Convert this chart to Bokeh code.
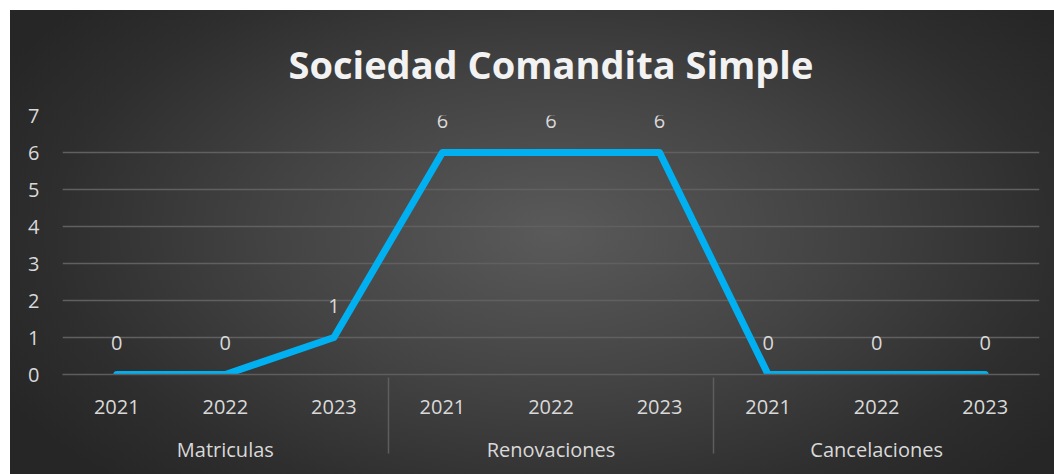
from bokeh.plotting import figure
from bokeh.models import FactorRange, ColumnDataSource, Range1d, LabelSet, FixedTicker
from bokeh.embed import file_html
from bokeh.resources import INLINE
from bokeh.core.properties import value

groups = ["Matriculas", "Renovaciones", "Cancelaciones"]
years = ["2021", "2022", "2023"]
values = [0, 0, 1, 6, 6, 6, 0, 0, 0]
y_ticks = [0, 1, 2, 3, 4, 5, 6, 7]

factors = [(g, y) for g in groups for y in years]
src = ColumnDataSource(dict(x=factors, y=values, lbl=[str(v) for v in values]))

p = figure(
    x_range=FactorRange(*factors, range_padding=0, group_padding=0, factor_padding=0),
    y_range=Range1d(0, 7),
    width=1044, height=464,
    output_backend="svg", toolbar_location=None,
    min_border_left=52, min_border_right=15, min_border_bottom=100, min_border_top=105,
)
p.styles = {
    "margin-left": "10px", "margin-top": "10px",
    "background": "radial-gradient(ellipse 60% 75% at 52% 48%, #5a5a5a 0%, #434343 45%, #2e2e2e 80%, #262626 100%)",
}
p.background_fill_alpha = 0
p.border_fill_alpha = 0
p.outline_line_color = None

p.title.text = "Sociedad Comandita Simple"
p.title.align = "center"
p.title.offset = -14
p.title.text_font = "Open Sans"
p.title.text_font_size = "38px"
p.title.text_font_style = "bold"
p.title.text_color = "#f2f2f2"
p.title.standoff = 51

p.ygrid.grid_line_color = "#606060"
p.ygrid.grid_line_width = 1.5
p.xgrid.grid_line_color = None

p.yaxis.ticker = FixedTicker(ticks=y_ticks)
p.yaxis.axis_line_color = None
p.yaxis.major_tick_line_color = None
p.yaxis.minor_tick_line_color = None
p.yaxis.major_label_text_font = "Open Sans"
p.yaxis.major_label_text_font_size = "20px"
p.yaxis.major_label_text_color = "#d9d9d9"
p.yaxis.major_label_standoff = 17

xa = p.xaxis[0]
xa.axis_line_color = "#5e5e5e"
xa.axis_line_width = 1.5
xa.major_tick_line_color = None
xa.minor_tick_line_color = None
xa.major_label_text_font = "Open Sans"
xa.major_label_text_font_size = "20px"
xa.major_label_text_color = "#d9d9d9"
xa.major_label_standoff = 19
xa.group_text_font = "Open Sans"
xa.group_text_font_size = "20px"
xa.group_text_font_style = "normal"
xa.group_text_color = "#d9d9d9"
xa.separator_line_color = "#5e5e5e"
xa.separator_line_width = 1.5

p.line("x", "y", source=src, line_color="#00B0F0", line_width=7, line_cap="round", line_join="round")

labels = LabelSet(x="x", y="y", text="lbl", source=src, y_offset=32,
                  text_align="center", text_baseline="middle",
                  text_font=value("Open Sans"), text_font_size=value("20px"), text_color="#d9d9d9")
p.add_layout(labels)

open("out.html", "w").write(file_html(p, INLINE))
